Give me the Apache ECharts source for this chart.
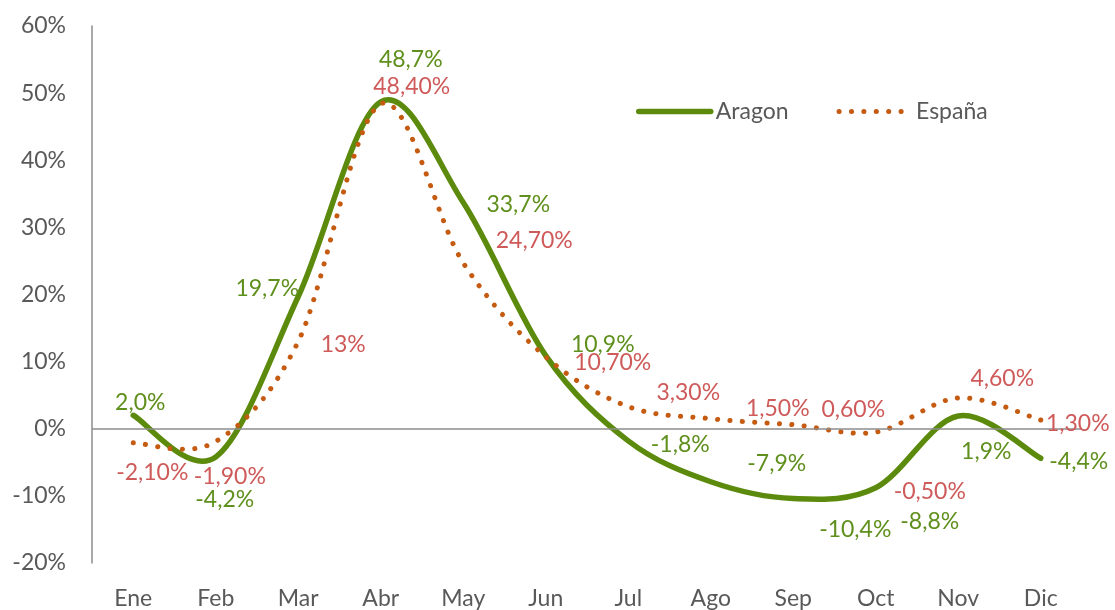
<!DOCTYPE html>
<html>
<head>
<meta charset="utf-8">
<script src="https://cdn.jsdelivr.net/npm/echarts@6/dist/echarts.min.js"></script>
<style>
  html, body { margin: 0; padding: 0; background: #fff; }
  #chart { width: 1115px; height: 610px; }
</style>
</head>
<body>
<div id="chart"></div>
<script>
// data
const months = ['Ene', 'Feb', 'Mar', 'Abr', 'May', 'Jun', 'Jul', 'Ago', 'Sep', 'Oct', 'Nov', 'Dic']
const aragon = [2.0, -4.2, 19.7, 48.7, 33.7, 10.9, -1.8, -7.9, -10.4, -8.8, 1.9, -4.4]
const espana = [-2.1, -1.9, 13, 48.4, 24.7, 10.7, 3.3, 1.5, 0.6, -0.5, 4.6, 1.3]
const yTicks = { min: -20, max: 60, step: 10 }

// label placement, like the hand-moved labels of the original
const aragonOffsets = [[7, -13], [9, 43], [-31, -8], [30, -42], [55, 2], [57, -11],
  [52, 4], [66, -18], [62, 31], [54, 34], [28, 36], [38, 3]]
const espanaOffsets = [[19, 30], [14, 35], [45, 3], [31, -17], [71, -22], [67, 6],
  [60, -14], [67, -10], [60, -15], [54, 59], [44, -19], [37, 4]]

const FONT = 'Lato'
const GREEN = '#5b8a0c'
const GREEN_TXT = '#5f8f1c'
const ORANGE = '#c55a11'
const RED_TXT = '#cf5a5a'
const GRAY = '#595959'
const NONE = 'rgba(0,0,0,0)'
const DOTS = [0.1, 12.3]

function fmtAragon(v) {
  return v.toFixed(1).replace('.', ',') + '%'
}

function fmtEspana(v) {
  if (Number.isInteger(v)) return v + '%'
  return v.toFixed(2).replace('.', ',') + '%'
}

function points(values, offsets, fmt, color) {
  return values.map((v, i) => ({
    value: v,
    label: {
      show: true,
      position: 'inside',
      offset: offsets[i],
      formatter: fmt(v),
      color: color,
      fontFamily: FONT,
      fontSize: 23
    }
  }))
}

// Excel-style smoothed line (cardinal spline, no clamping) through the axis coords
function curve(name, values, style, z) {
  return {
    name: name,
    type: 'custom',
    silent: true,
    z: z,
    data: values.map((v, i) => [i, v]),
    encode: { x: 0, y: 1 },
    renderItem(params, api) {
      if (params.dataIndex !== 0) return null
      const p = values.map((v, i) => api.coord([i, v]))
      const n = p.length
      let d = 'M' + p[0][0] + ',' + p[0][1]
      for (let i = 0; i < n - 1; i++) {
        const a = p[Math.max(i - 1, 0)], b = p[i], c = p[i + 1], e = p[Math.min(i + 2, n - 1)]
        const c1x = b[0] + (c[0] - a[0]) / 6, c1y = b[1] + (c[1] - a[1]) / 6
        const c2x = c[0] - (e[0] - b[0]) / 6, c2y = c[1] - (e[1] - b[1]) / 6
        d += ' C' + c1x + ',' + c1y + ' ' + c2x + ',' + c2y + ' ' + c[0] + ',' + c[1]
      }
      return { type: 'path', shape: { pathData: d }, style: style }
    }
  }
}

function renderChart() {
  const chart = echarts.init(document.getElementById('chart'))
  const option = {
    animation: false,
    textStyle: { fontFamily: FONT },
    grid: { left: 92, right: 33, top: 26, bottom: 45, containLabel: false },
    legend: {
      left: 631,
      top: 95,
      itemGap: 48,
      itemWidth: 72,
      itemHeight: 14,
      textStyle: { color: GRAY, fontSize: 23, fontFamily: FONT },
      data: [
        { name: 'Aragon', lineStyle: { color: GREEN, width: 5.5, cap: 'round', opacity: 1 } },
        { name: 'España', lineStyle: { color: ORANGE, width: 5, type: DOTS, cap: 'round', opacity: 1 } }
      ]
    },
    xAxis: {
      type: 'category',
      data: months,
      boundaryGap: true,
      axisLine: { show: false, onZero: false },
      axisTick: { show: false },
      axisLabel: { color: GRAY, fontSize: 23, fontFamily: FONT, margin: 24 }
    },
    yAxis: {
      type: 'value',
      min: yTicks.min,
      max: yTicks.max,
      interval: yTicks.step,
      axisLine: { show: true, lineStyle: { color: '#8c8c8c', width: 1.5 } },
      axisTick: { show: false },
      splitLine: { show: false },
      axisLabel: { color: GRAY, fontSize: 23, fontFamily: FONT, margin: 26, formatter: '{value}%' }
    },
    series: [
      curve('Aragon curve', aragon,
        { fill: null, stroke: GREEN, lineWidth: 5.5, lineCap: 'round', lineJoin: 'round' }, 2),
      curve('España curve', espana,
        { fill: null, stroke: ORANGE, lineWidth: 5, lineCap: 'round', lineDash: DOTS }, 3),
      {
        name: 'Aragon',
        type: 'line',
        symbol: 'circle',
        symbolSize: 1,
        itemStyle: { color: NONE },
        lineStyle: { color: NONE, width: 0 },
        data: points(aragon, aragonOffsets, fmtAragon, GREEN_TXT),
        markLine: {
          silent: true,
          symbol: 'none',
          label: { show: false },
          lineStyle: { color: '#8c8c8c', type: 'solid', width: 1.5 },
          data: [{ yAxis: 0 }]
        },
        z: 5
      },
      {
        name: 'España',
        type: 'line',
        symbol: 'circle',
        symbolSize: 1,
        itemStyle: { color: NONE },
        lineStyle: { color: NONE, width: 0 },
        data: points(espana, espanaOffsets, fmtEspana, RED_TXT),
        z: 5
      }
    ]
  }
  chart.setOption(option)
}

document.addEventListener('DOMContentLoaded', renderChart)
</script>
</body>
</html>
